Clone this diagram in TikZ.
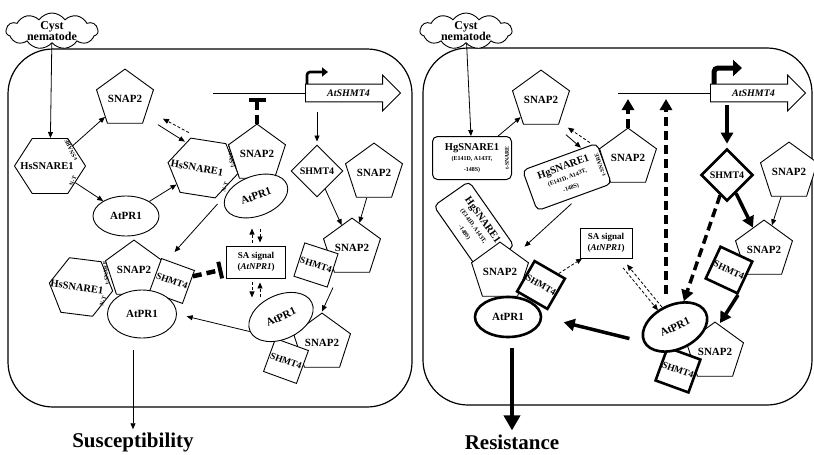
\documentclass[tikz,border=0pt]{standalone}
\usepackage{fontspec}
\setmainfont{Liberation Serif}
\usetikzlibrary{arrows.meta,positioning,shapes.geometric,shapes.symbols,shapes.arrows,calc}
\newcommand\mutfont{\fontsize{6}{6.5}\selectfont}

\tikzset{
  lbl/.style={font=\fontsize{11}{12}\selectfont\bfseries},
  hslbl/.style={font=\fontsize{10.5}{11}\selectfont\bfseries, inner sep=0pt},
  tag/.style={font=\fontsize{5.8}{6}\selectfont\bfseries, inner sep=0pt},
  shp/.style={draw, fill=white, line width=0.9pt, inner sep=0pt, lbl},
  bold shp/.style={line width=2.6pt},
  pent/.style={shp, regular polygon, regular polygon sides=5, minimum size=50pt},
  hexa/.style={shp, regular polygon, regular polygon sides=6, minimum size=63.6pt, xscale=1.117},
  prot/.style={shp, ellipse, minimum width=66pt, minimum height=40pt},
  sqbox/.style={shp, rectangle, minimum size=35pt, font=\fontsize{9.5}{10}\selectfont\bfseries},
  dia/.style={shp, diamond, minimum width=52pt, minimum height=52pt, font=\fontsize{10}{11}\selectfont\bfseries},
  sabox/.style={shp, rectangle, align=center, minimum height=32pt, font=\fontsize{9}{10.5}\selectfont\bfseries},
  hgbox/.style={shp, rectangle, rounded corners=5pt, align=center, minimum width=79pt, minimum height=43pt, line width=1pt, font=\fontsize{10.5}{11}\selectfont\bfseries},
  cloudy/.style={cloud, cloud puffs=11, cloud puff arc=110, cloud ignores aspect, draw, fill=white, line width=0.9pt, minimum width=92pt, minimum height=36pt, inner sep=0pt},
  cysttext/.style={align=center, font=\fontsize{12}{11}\selectfont\bfseries, inner sep=0pt},
  gene/.style={single arrow, draw, fill=white, line width=0.9pt, minimum height=95pt, single arrow head extend=9pt, inner xsep=2pt, inner ysep=5pt, font=\fontsize{10}{11}\selectfont\bfseries\itshape},
  cell/.style={draw, line width=1.2pt, rounded corners=45pt},
  ar/.style={-{Triangle[length=6pt,width=5pt]}, line width=0.8pt},
  dar/.style={ar, dash pattern=on 3pt off 2pt},
  thk/.style={-{Triangle[length=11pt,width=12pt]}, line width=3.5pt},
  thkdash/.style={thk, dash pattern=on 9pt off 5pt},
  inh/.style={-{Bar[width=17pt,line width=4pt]}, line width=4.5pt, dash pattern=on 9pt off 5pt},
  outcome/.style={font=\fontsize{21}{22}\selectfont\bfseries, inner sep=0pt},
}

\begin{document}
\begin{tikzpicture}[x=1pt,y=-1pt]
  \useasboundingbox (0,0) rectangle (814,455);

  % two cells
  \draw[cell] (8,49) rectangle (412,407);
  \draw[cell] (423,48) rectangle (812,405);

  % ---------- left cell ----------
  \coordinate (tssL) at (305,93);
  \draw[line width=0.9pt] (213,93) -- (tssL);
  \draw[line width=2.6pt, rounded corners=3pt, -{Triangle[length=6pt,width=9pt]}] ([xshift=2pt]tssL) -- ++(0,-21) -- ++(21,0);
  \node[gene, anchor=tail] (geneL) at (tssL) {AtSHMT4};

  \node[cloudy] (cystL) at (52,31) {};
  \node[cysttext] (cystLtxt) at (cystL) {Cyst\\nematode};
  \node[hexa] (hsL) at (50,166) {};
  \node[hslbl] (hsLtxt) at (47,166) {HsSNARE1};
  \node[tag, rotate=115] (tsL) at (71,150) {t-SNARE};
  \node[tag, rotate=65] (ntL) at (73,181) {N-T};
  \node[pent, minimum size=48pt] (snapL) at (125,99) {SNAP2};
  \node[prot] (prL) at (126,216) {AtPR1};

  \node[hexa, rotate=-10] (hsC1) at (203,168) {};
  \node[hslbl, rotate=-10] (hsC1txt) at (197,168) {HsSNARE1};
  \node[tag, rotate=95] (tsC1) at (231,156) {t-SNARE};
  \node[tag, rotate=70] (ntC1) at (225,187) {N-T};
  \node[pent] (snapC1) at (257,154) {SNAP2};
  \node[prot, rotate=20] (prC1) at (256,196) {AtPR1};
  \coordinate (inhL) at (257,98);

  \node[dia] (shL) at (317,171) {SHMT4};
  \node[pent] (snapR1) at (374,173) {SNAP2};
  \node[pent] (snapP1) at (352,248) {SNAP2};
  \node[sqbox, rotate=-18] (shP1) at (316,265) {SHMT4};
  \node[sabox, minimum width=59pt] (saL) at (256,262) {SA signal\\(\textit{AtNPR1})};

  \node[pent, minimum size=48pt] (snapL2) at (322,343) {SNAP2};
  \node[sqbox, rotate=-20] (shL2) at (286,361) {SHMT4};
  \node[prot, rotate=25, minimum width=68pt, minimum height=44pt] (prL2) at (281,317) {AtPR1};

  \node[hexa, rotate=-8, xscale=0.9] (hsLL) at (81,287) {};
  \node[hslbl, rotate=-8] (hsLLtxt) at (77,287) {HsSNARE1};
  \node[tag, rotate=95] (tsLL) at (106,273) {t-SNARE};
  \node[tag, rotate=70] (ntLL) at (103,301) {N-T};
  \node[pent, minimum size=46pt] (snapLL) at (134,270) {SNAP2};
  \node[sqbox, rotate=-20] (shLL) at (172,281) {SHMT4};
  \node[prot, minimum width=69pt, minimum height=48pt] (prLL) at (142,314) {AtPR1};
  \node[outcome] (sus) at (133,442) {Susceptibility};

  \draw[ar] (cystL) -- (hsL);
  \draw[ar] (hsL) -- (snapL);
  \draw[ar] (hsL) -- (prL);
  \draw[ar] (prL) -- (hsC1);
  \draw[ar] ($(snapL.corner 4)+(15,1)$) -- ++(27,17);
  \draw[dar] ($(snapL.corner 4)+(46,9)$) -- ++(-26,-14);
  \draw[inh] (snapC1.corner 1) -- (inhL);
  \draw[ar, shorten <=10pt, shorten >=3pt] (shL.north |- geneL.south) -- (shL.north);
  \draw[ar] (shL) -- (snapP1);
  \draw[ar] (snapR1) -- (snapP1);
  \draw[ar] ($(shP1)!0.5!(snapP1)+(-1,31)$) -- ++(-11,24);
  \draw[ar] ($(hsC1)!0.5!(prC1)+(-12,22)$) -- ++(-43,48);
  \draw[dar] ([xshift=-4pt]saL.north) ++(0,-3) -- ++(0,-14);
  \draw[dar] ([xshift=4pt]saL.north) ++(0,-17) -- ++(0,14);
  \draw[dar] ([xshift=-4pt]saL.south) ++(0,4) -- ++(0,15);
  \draw[dar] ([xshift=4pt]saL.south) ++(0,19) -- ++(0,-15);
  \draw[inh, shorten >=4pt] (shLL) -- (saL);
  \draw[ar, shorten >=10pt] (prL2.west) -- (prLL.east);
  \draw[ar, shorten <=12pt, shorten >=3pt] (sus |- prLL.south) -- (sus.north);

  % ---------- right cell ----------
  \coordinate (tssR) at (710,93);
  \draw[line width=0.9pt] (618,93) -- (tssR);
  \draw[line width=5pt, rounded corners=4pt, -{Triangle[length=9pt,width=16pt]}] ([xshift=4pt]tssR) -- ++(0,-25) -- ++(28,0);
  \node[gene, anchor=tail] (geneR) at (tssR) {AtSHMT4};
  \coordinate (upR1) at (628,99);
  \coordinate (upR2) at (666,99);

  \node[cloudy] (cystR) at (466,31) {};
  \node[cysttext] (cystRtxt) at (cystR) {Cyst\\nematode};
  \node[hgbox] (hgL) at (472,158) {HgSNARE1\\[-1pt]{\mutfont (E141D, A143T,}\\{\mutfont -148S)}};
  \node[tag, rotate=90] (tsR) at (507,158) {t-SNARE};
  \node[pent] (snapR) at (541,100) {SNAP2};
  \node[pent] (snapM) at (628,158) {SNAP2};
  \node[hgbox, rotate=20] (hgM) at (567,177) {HgSNARE1\\[-1pt]{\mutfont (E141D, A143T,}\\{\mutfont -148S)}};
  \node[tag, rotate=110] (tsM) at (600,165) {t-SNARE};

  \node[dia, bold shp] (shR) at (727,175) {SHMT4};
  \node[pent] (snapR2) at (789,172) {SNAP2};
  \node[pent] (snapP2) at (764,250) {SNAP2};
  \node[sqbox, bold shp, rotate=-25] (shP2) at (729,270) {SHMT4};
  \node[sabox, minimum width=52pt, minimum height=30pt] (saR) at (606,243) {SA signal\\(\textit{AtNPR1})};

  \node[pent] (snapR3) at (715,352) {SNAP2};
  \node[sqbox, bold shp, rotate=-20] (shR3) at (678,370) {SHMT4};
  \node[prot, bold shp, rotate=25, minimum width=68pt, minimum height=44pt] (prR2) at (675,327) {AtPR1};

  \node[hgbox, rotate=-55] (hgC) at (474,226) {HgSNARE1\\[-1pt]{\mutfont (E141D, A143T,}\\{\mutfont -148S)}};
  \node[tag, rotate=35] (tsC) at (493,252) {t-SNARE};
  \node[pent] (snapC) at (500,272) {SNAP2};
  \node[sqbox, bold shp, rotate=-30] (shC) at (541,285) {SHMT4};
  \node[prot, bold shp] (prC) at (508,317) {AtPR1};
  \node[outcome] (res) at (512,442) {Resistance};

  \draw[ar] (cystR) -- (hgL);
  \draw[ar] (hgL) -- (snapR);
  \draw[ar] ($(snapR.corner 4)+(7,10)$) -- ++(15,13);
  \draw[dar] ($(snapR.corner 4)+(31,18)$) -- ++(-22,-15);
  \draw[ar] ([shift={(-3,6)}]hgM.south) -- ++(-47,43);
  \draw[thkdash] (snapM.corner 1) -- (upR1);
  \draw[thkdash, shorten <=12pt] (upR2 |- prR2.north) -- (upR2);
  \draw[thk, shorten <=3pt, shorten >=4pt] (shR.north |- geneR.south) -- (shR.north);
  \draw[thk] (shR) -- (snapP2);
  \draw[ar] (snapR2) -- (snapP2);
  \draw[thkdash] (shR) -- (prR2);
  \draw[thk] ($(shP2)!0.5!(snapP2)+(-8.5,35)$) -- ++(-18,28);
  \draw[dar] (shC) -- (saR);
  \draw[dar, shorten <=10pt, transform canvas={shift={(-2pt,-1.6pt)}}] (saR) -- (prR2);
  \draw[dar, shorten >=10pt, transform canvas={shift={(2pt,1.6pt)}}] (prR2) -- (saR);
  \draw[thk, shorten <=14pt, shorten >=22pt] (prR2.west) -- (prC.east);
  \draw[-{Triangle[length=15pt,width=16pt]}, line width=4.5pt, shorten <=10pt, shorten >=4pt] (res |- prC.south) -- (res.north);
\end{tikzpicture}
\end{document}
